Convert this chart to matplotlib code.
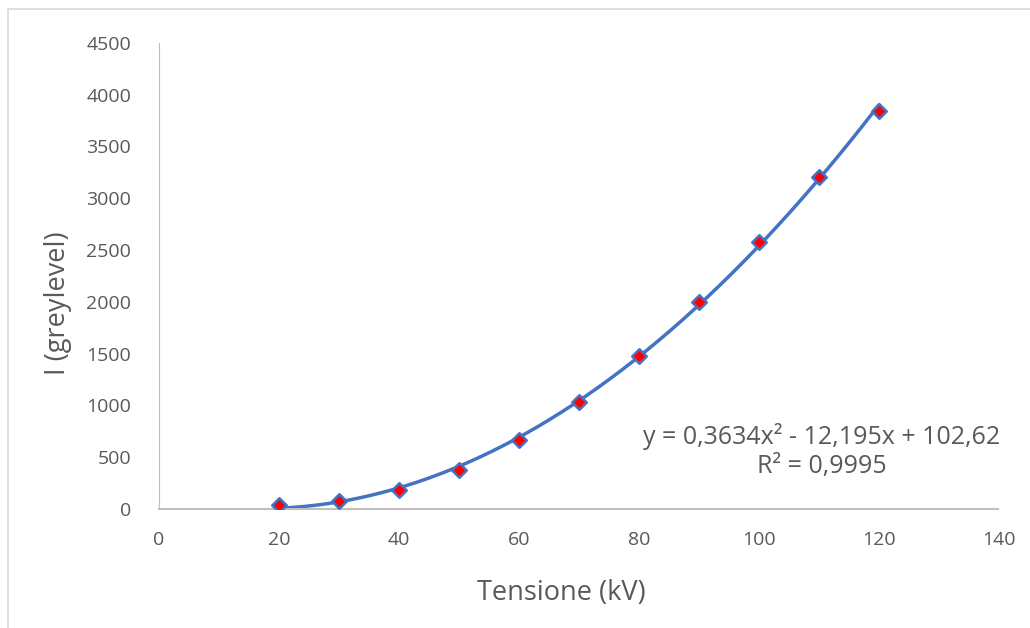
import numpy as np
import matplotlib
matplotlib.use("Agg")
import matplotlib.pyplot as plt
from matplotlib.patches import Rectangle

# tensione (kV) vs intensity (greylevel)
kv = [20, 30, 40, 50, 60, 70, 80, 90, 100, 110, 120]
grey = [35, 75, 185, 380, 665, 1035, 1480, 2000, 2575, 3200, 3845]
x_ticks = [0, 20, 40, 60, 80, 100, 120, 140]
y_ticks = [0, 500, 1000, 1500, 2000, 2500, 3000, 3500, 4000, 4500]
equation = "y = 0,3634x² - 12,195x + 102,62\nR² = 0,9995"

plt.rcParams['font.family'] = ['Open Sans', 'DejaVu Sans']
text_col = '#595959'

fig = plt.figure(figsize=(10.3, 6.28), dpi=100)
ax = fig.add_axes([0.1544, 0.1895, 0.815, 0.7425])

# polynomial trendline (order 2)
coef = np.polyfit(kv, grey, 2)
xs = np.linspace(min(kv), max(kv), 200)
ax.plot(xs, np.polyval(coef, xs), color='#4472C4', lw=2.5, zorder=2)
ax.scatter(kv, grey, marker='D', s=55, facecolor='red', edgecolor='#4472C4',
           linewidth=1.8, zorder=3)

ax.set_xlim(0, 140)
ax.set_ylim(0, 4500)
ax.set_xticks(x_ticks)
ax.set_yticks(y_ticks)
ax.tick_params(length=0, labelsize=14, colors=text_col)
ax.tick_params(axis='x', pad=16)
ax.tick_params(axis='y', pad=20)
for s in ['top', 'right']:
    ax.spines[s].set_visible(False)
ax.spines['left'].set_color('#BFBFBF')
ax.spines['bottom'].set_color('#BFBFBF')
ax.spines['bottom'].set_linewidth(1.5)

ax.set_xlabel('Tensione (kV)', fontsize=19.5, color=text_col)
ax.set_ylabel('I (greylevel)', fontsize=19.5, color=text_col)
ax.xaxis.set_label_coords(0.479, -0.150)
ax.yaxis.set_label_coords(-0.104, 0.442)

ax.text(110.5, 560, equation, ha='center', va='center', fontsize=18,
        color=text_col, linespacing=1.2)

# chart area border
fig.patches.append(Rectangle((0.008, -0.01), 1.1, 0.995, transform=fig.transFigure,
                             fill=False, edgecolor='#D9D9D9', lw=1.2))

fig.savefig('out.png', dpi=100)
